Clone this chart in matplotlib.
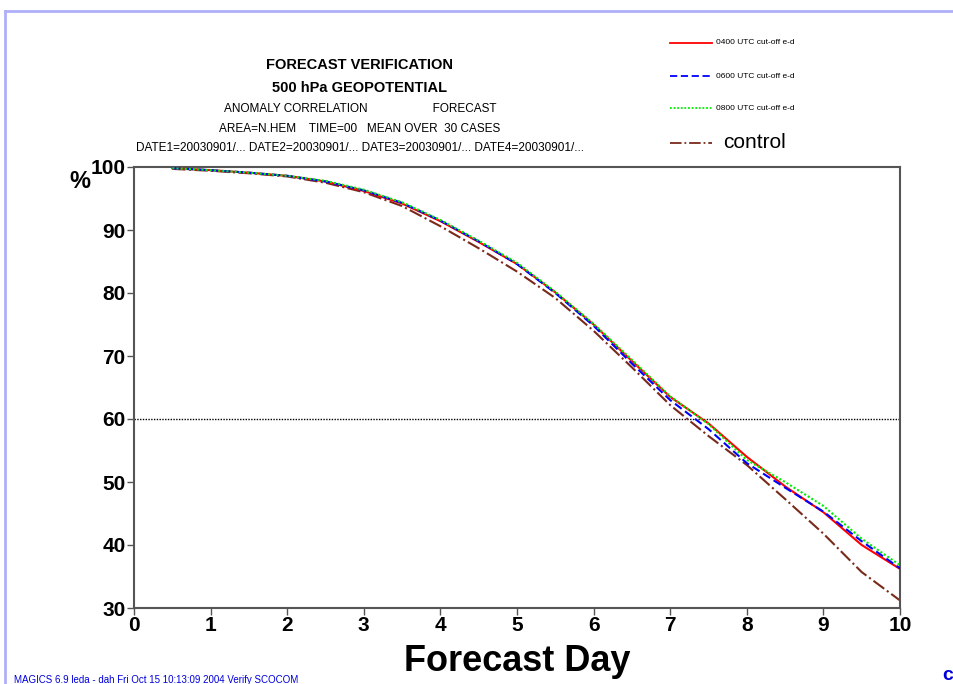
import matplotlib
matplotlib.use('Agg')
import matplotlib.pyplot as plt
from matplotlib.lines import Line2D

plt.rcParams['font.family'] = ['Liberation Sans', 'DejaVu Sans']

# forecast days (0.5-day steps)
days = [0.5, 1.0, 1.5, 2.0, 2.5, 3.0, 3.5, 4.0, 4.5, 5.0,
        5.5, 6.0, 6.5, 7.0, 7.5, 8.0, 8.5, 9.0, 9.5, 10.0]

# anomaly correlation (%)
ac_0400 = [99.8, 99.5, 99.1, 98.6, 97.7, 96.2, 94.2, 91.4, 88.1, 84.6,
           80.1, 75.0, 69.2, 63.5, 59.3, 54.0, 49.3, 45.2, 40.0, 36.2]
ac_0600 = [99.8, 99.5, 99.1, 98.6, 97.7, 96.3, 94.3, 91.5, 88.2, 84.6,
           80.0, 74.8, 68.8, 63.0, 58.4, 53.0, 49.1, 45.3, 40.6, 36.3]
ac_0800 = [99.8, 99.5, 99.1, 98.6, 97.8, 96.4, 94.4, 91.6, 88.3, 84.8,
           80.2, 75.1, 69.4, 63.6, 59.2, 53.5, 50.0, 46.2, 41.0, 36.8]
ac_control = [99.7, 99.4, 99.0, 98.5, 97.5, 96.0, 93.8, 90.6, 87.1, 83.4,
              79.2, 74.0, 68.2, 62.2, 57.3, 52.7, 47.3, 41.8, 35.7, 31.2]

series_labels = ['0400 UTC cut-off e-d', '0600 UTC cut-off e-d',
                 '0800 UTC cut-off e-d', 'control']

x_ticks = list(range(0, 11))
y_ticks = [30, 40, 50, 60, 70, 80, 90, 100]

fig = plt.figure(figsize=(9.54, 6.84), dpi=100)
ax = fig.add_axes([134 / 954, 1 - 608 / 684, 766 / 954, 441 / 684])

ax.axhline(60, color='black', linestyle=(0, (1, 1)), linewidth=1.0, zorder=1)

ax.plot(days, ac_control, color='#7a2a1a', linestyle='-.', linewidth=1.5, zorder=2)
ax.plot(days, ac_0400, color='#ff0000', linestyle='-', linewidth=1.5, zorder=3)
ax.plot(days, ac_0600, color='#0000ff', linestyle=(0, (4, 2)), linewidth=1.5, zorder=4)
ax.plot(days, ac_0800, color='#00ee00', linestyle=(0, (1, 1)), linewidth=1.5, zorder=5)

ax.set_xlim(0, 10)
ax.set_ylim(30, 100)
ax.set_xticks(x_ticks)
ax.set_yticks(y_ticks)
ax.tick_params(axis='both', direction='out', length=5, width=1, color='#555555',
               labelsize=15, pad=1)
for lab in ax.get_xticklabels() + ax.get_yticklabels():
    lab.set_fontweight('bold')
for sp in ax.spines.values():
    sp.set_color('#555555')
    sp.set_linewidth(1.5)

ax.set_xlabel('Forecast Day', fontsize=26, fontweight='bold', labelpad=6)
fig.text(80 / 954, 1 - 182 / 684, '%', fontsize=17, fontweight='bold',
         ha='center', va='center')

# title block
title_x = 360 / 954
fig.text(title_x, 1 - 65 / 684, 'FORECAST VERIFICATION', fontsize=10.5,
         fontweight='bold', ha='center', va='center')
fig.text(title_x, 1 - 88 / 684, '500 hPa GEOPOTENTIAL', fontsize=10.5,
         fontweight='bold', ha='center', va='center')
fig.text(title_x, 1 - 109 / 684,
         'ANOMALY CORRELATION                    FORECAST',
         fontsize=8.5, ha='center', va='center')
fig.text(title_x, 1 - 129 / 684,
         'AREA=N.HEM    TIME=00   MEAN OVER  30 CASES',
         fontsize=8.5, ha='center', va='center')
fig.text(title_x, 1 - 148 / 684,
         'DATE1=20030901/... DATE2=20030901/... DATE3=20030901/... DATE4=20030901/...',
         fontsize=8.5, ha='center', va='center')

# legend drawn by hand
leg_styles = [('#ff0000', '-'), ('#0000ff', (0, (4, 2))),
              ('#00ee00', (0, (1, 1))), ('#7a2a1a', '-.')]
leg_rows = [43, 76, 108, 143]
for (col, ls), yy, lab in zip(leg_styles, leg_rows, series_labels):
    yf = 1 - yy / 684
    fig.add_artist(Line2D([670 / 954, 712 / 954], [yf, yf], color=col,
                          linestyle=ls, linewidth=1.3))
    if lab == 'control':
        fig.text(723 / 954, yf, lab, fontsize=15, ha='left', va='center')
    else:
        fig.text(716 / 954, yf, lab, fontsize=6, ha='left', va='center')

# page frame and footer
fig.add_artist(Line2D([5 / 954, 1.0], [1 - 11 / 684, 1 - 11 / 684],
                      color='#b0b0f8', linewidth=2))
fig.add_artist(Line2D([5 / 954, 5 / 954], [0, 1 - 11 / 684],
                      color='#b0b0f8', linewidth=2))
fig.text(14 / 954, 1 - 680 / 684,
         'MAGICS 6.9 leda - dah Fri Oct 15 10:13:09 2004 Verify SCOCOM',
         fontsize=7, color='#0000dd', ha='left', va='center')
fig.text(942 / 954, 1 - 676 / 684, 'c', fontsize=14, fontweight='bold',
         color='#0000dd', ha='left', va='center')

fig.savefig('out.png', dpi=100)
